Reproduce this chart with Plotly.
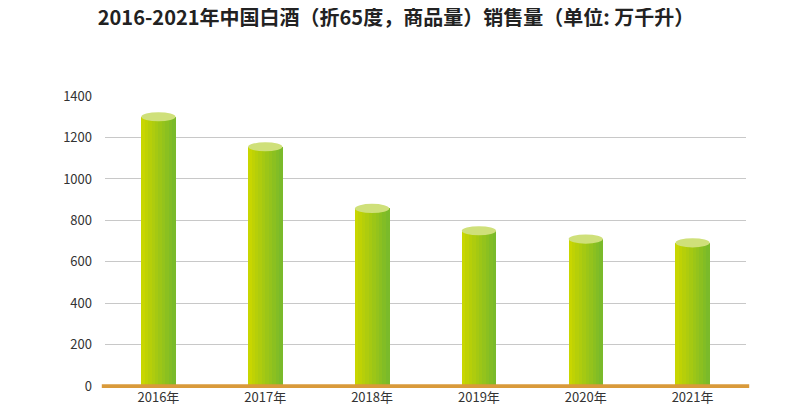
import plotly.graph_objects as go

years = ["2016年", "2017年", "2018年", "2019年", "2020年", "2021年"]
sales = [1300, 1155, 858, 750, 710, 692]
y_ticks = [0, 200, 400, 600, 800, 1000, 1200, 1400]

fig = go.Figure()
n = 10
bw = 0.32
c0 = (200, 214, 0)
c1 = (122, 186, 42)
for k in range(n):
    t = k / (n - 1)
    col = "rgb(%d,%d,%d)" % tuple(int(c0[j] + (c1[j] - c0[j]) * t) for j in range(3))
    fig.add_trace(go.Bar(x=years, y=sales, width=bw / n + 0.003, offset=-bw / 2 + k * bw / n,
                         marker=dict(color=col, line=dict(width=0)), hoverinfo="skip", showlegend=False))

shapes = []
for i, v in enumerate(sales):
    shapes.append(dict(type="circle", xref="x", yref="y", x0=i - bw / 2, x1=i + bw / 2, y0=v - 22, y1=v + 22,
                       fillcolor="#cfe07a", line=dict(width=0), layer="above"))
shapes.append(dict(type="line", xref="paper", yref="y", x0=-0.005, x1=1.005, y0=0, y1=0,
                   line=dict(color="#d99a3a", width=4), layer="above"))

fig.update_layout(
    barmode="overlay", bargap=0,
    width=800, height=410,
    margin=dict(l=97, r=62, t=88, b=26),
    paper_bgcolor="white", plot_bgcolor="white",
    font=dict(family="Noto Sans CJK SC", size=13, color="#333"),
    title=dict(text="<b>2016-2021年中国白酒（折65度，商品量）销售量（单位: 万千升）</b>",
               x=0.485, xanchor="center", y=0.975, yanchor="middle",
               font=dict(size=20, color="#222")),
    shapes=shapes,
    xaxis=dict(showgrid=False, showline=False, ticks="", tickfont=dict(size=13)),
    yaxis=dict(range=[-8, 1400], tickvals=y_ticks, showgrid=True, gridcolor="#c8c8c8", gridwidth=1.3,
               zeroline=False, ticks="", tickfont=dict(size=13), ticklabelstandoff=12),
)
fig.write_html("out.html")
